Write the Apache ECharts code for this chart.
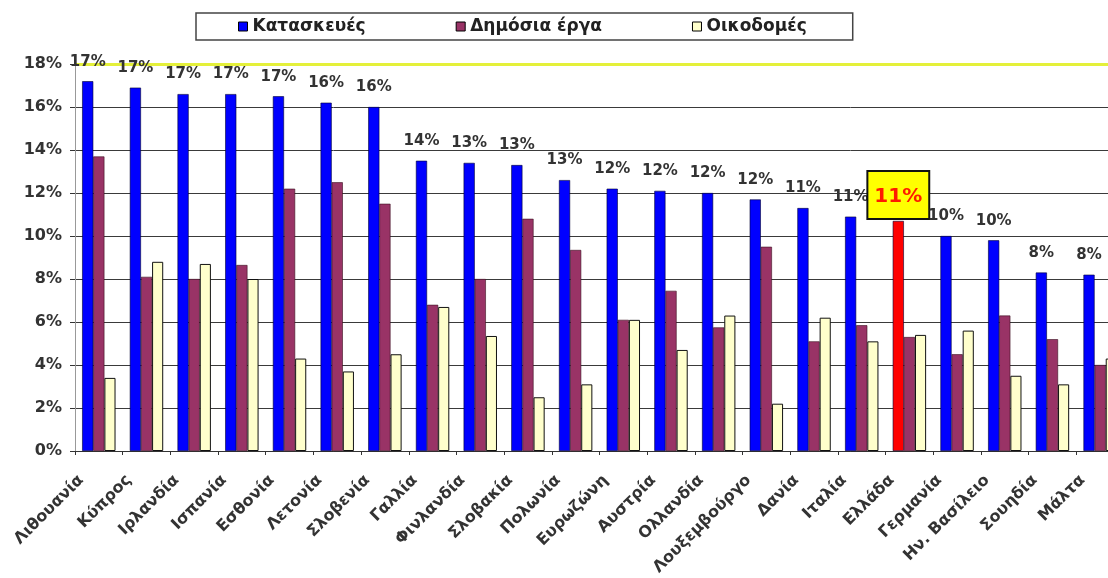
<!DOCTYPE html>
<html>
<head>
<meta charset="utf-8">
<script src="https://cdn.jsdelivr.net/npm/echarts@6/dist/echarts.min.js"></script>
<style>
html,body{margin:0;padding:0;background:#fff;}
#chart{width:1108px;height:578px;}
</style>
</head>
<body>
<div id="chart"></div>
<script>
var categories = ['Λιθουανία','Κύπρος','Ιρλανδία','Ισπανία','Εσθονία','Λετονία','Σλοβενία','Γαλλία','Φινλανδία','Σλοβακία','Πολωνία','Ευρωζώνη','Αυστρία','Ολλανδία','Λουξεμβούργο','Δανία','Ιταλία','Ελλάδα','Γερμανία','Ην. Βασίλειο','Σουηδία','Μάλτα'];
var seriesNames = ['Κατασκευές','Δημόσια έργα','Οικοδομές'];
var kataskeves = [17.2,16.9,16.6,16.6,16.5,16.2,16.0,13.5,13.4,13.3,12.6,12.2,12.1,12.0,11.7,11.3,10.9,10.7,10.0,9.8,8.3,8.2];
var dimosiaErga = [13.7,8.1,8.0,8.65,12.2,12.5,11.5,6.8,8.0,10.8,9.35,6.1,7.45,5.75,9.5,5.1,5.85,5.3,4.5,6.3,5.2,4.0];
var oikodomes = [3.4,8.8,8.7,8.0,4.3,3.7,4.5,6.7,5.35,2.5,3.1,6.1,4.7,6.3,2.2,6.2,5.1,5.4,5.6,3.5,3.1,4.3];
var yTicks = [0,2,4,6,8,10,12,14,16,18];
var highlightCategory = 'Ελλάδα';

var font = 'DejaVu Sans';
var hiIdx = categories.indexOf(highlightCategory);

var blueData = kataskeves.map(function(v, i){
  if (i === hiIdx) {
    return {
      value: v,
      itemStyle: {color: '#ff0000'},
      label: {
        formatter: function(p){ return Math.round(p.value) + '%'; },
        color: '#ff1a00', fontSize: 20, fontWeight: 'bold', fontFamily: font,
        backgroundColor: '#ffff00', borderColor: '#111', borderWidth: 2,
        padding: [15, 6, 11, 6], distance: 3
      }
    };
  }
  return v;
});

var chart = echarts.init(document.getElementById('chart'));
chart.setOption({
  animation: false,
  backgroundColor: '#ffffff',
  textStyle: {fontFamily: font},
  legend: {
    data: seriesNames,
    left: 196, top: 13,
    orient: 'horizontal',
    itemWidth: 9, itemHeight: 9, itemGap: 90,
    padding: [5, 46, 5, 42],
    borderColor: '#444', borderWidth: 1.5,
    icon: 'rect',
    textStyle: {fontFamily: font, fontSize: 17, fontWeight: 'bold', color: '#222'},
    itemStyle: {borderColor: '#000', borderWidth: 1}
  },
  grid: {left: 75, right: -16, top: 64, bottom: 127, containLabel: false, outerBoundsMode: 'none'},
  xAxis: {
    type: 'category',
    data: categories,
    axisLine: {lineStyle: {color: '#333', width: 1}},
    axisTick: {show: true, length: 4, lineStyle: {color: '#333'}},
    axisLabel: {interval: 0, rotate: 45, margin: 9, padding: [0, 25, 0, 0], fontSize: 16, fontWeight: 'bold', color: '#333', fontFamily: font}
  },
  yAxis: {
    type: 'value',
    min: yTicks[0], max: yTicks[yTicks.length - 1], interval: 2,
    axisLine: {show: true, lineStyle: {color: '#999'}},
    axisTick: {show: true, length: 5, lineStyle: {color: '#333'}},
    axisLabel: {formatter: '{value}%', fontSize: 16, fontWeight: 'bold', color: '#333', margin: 13, fontFamily: font},
    splitLine: {show: true, lineStyle: {color: '#3a3a3a', width: 1}}
  },
  series: [
    {
      name: seriesNames[0], type: 'bar', data: blueData,
      barGap: '0%', barCategoryGap: '30%',
      itemStyle: {color: '#0000ff', borderColor: '#000033', borderWidth: 0.6},
      label: {
        show: true, position: 'top', distance: 12,
        formatter: function(p){ return Math.round(p.value) + '%'; },
        fontSize: 15, fontWeight: 'bold', color: '#333', fontFamily: font
      },
      markLine: {
        silent: true, symbol: 'none', label: {show: false},
        lineStyle: {color: '#e4f03a', width: 3, type: 'solid'},
        data: [{yAxis: yTicks[yTicks.length - 1]}],
        z: 1
      },
      z: 3
    },
    {
      name: seriesNames[1], type: 'bar', data: dimosiaErga,
      barGap: '0%', barCategoryGap: '30%',
      itemStyle: {color: '#993366', borderColor: '#3a1020', borderWidth: 0.6}
    },
    {
      name: seriesNames[2], type: 'bar', data: oikodomes,
      barGap: '0%', barCategoryGap: '30%',
      itemStyle: {color: '#ffffcc', borderColor: '#111', borderWidth: 1}
    }
  ]
});
</script>
</body>
</html>
